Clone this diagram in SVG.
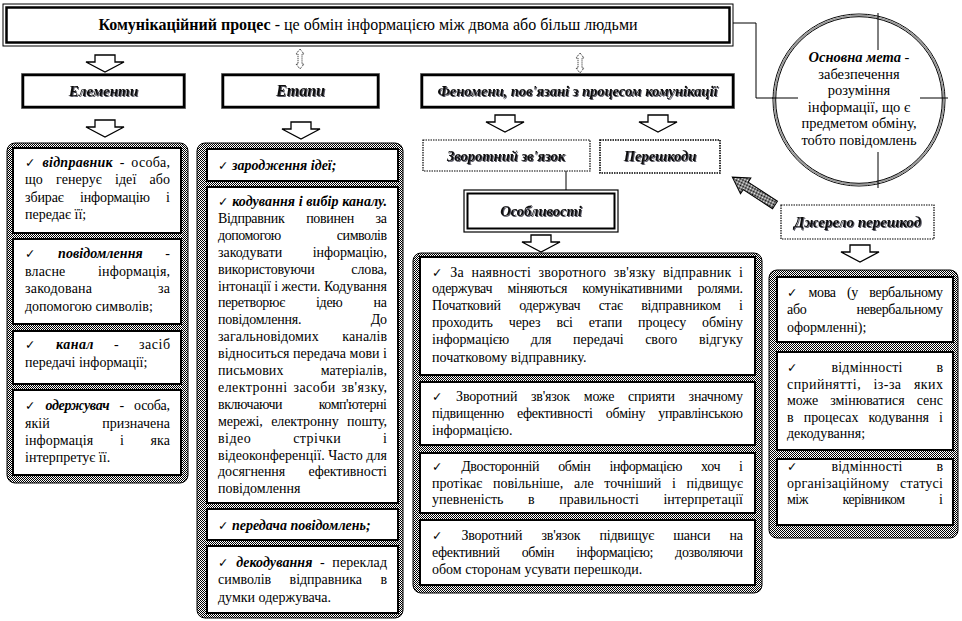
<svg xmlns="http://www.w3.org/2000/svg" width="962" height="621" viewBox="0 0 962 621">
<defs>
<pattern id="stip" width="2" height="2" patternUnits="userSpaceOnUse"><rect width="2" height="2" fill="#fff"/><rect width="1" height="1" fill="#000"/><rect x="1" y="1" width="1" height="1" fill="#000"/></pattern>
<filter id="sh" x="-5%" y="-20%" width="110%" height="140%"><feDropShadow dx="1" dy="1" stdDeviation="0.2" flood-color="#223" flood-opacity="0.75"/></filter>
<path id="barrow" d="M-10,0 H10 V7 H19 L0,17 L-19,7 H-10 Z" fill="#fff" stroke="#000" stroke-width="1.3"/>
<path id="dblarrow" d="M0,0 L4,5 H2 V15 H4 L0,20 L-4,15 H-2 V5 H-4 Z" fill="#fff" stroke="#000" stroke-width="0.9" stroke-dasharray="1,1"/>
</defs>
<style>
.b{font-family:"Liberation Serif","Times New Roman",serif;font-size:14px;fill:#000}
.bi{font-weight:bold;font-style:italic}
.ck{font-family:"DejaVu Sans",sans-serif;font-size:12.5px}
.hd{font-family:"Liberation Serif","Times New Roman",serif;font-size:15px;font-weight:bold;font-style:italic;fill:#111;filter:url(#sh)}
.hd2{font-family:"Liberation Serif","Times New Roman",serif;font-size:14.5px;font-weight:bold;font-style:italic;fill:#111;filter:url(#sh)}
.cont{fill:url(#stip);stroke:#000;stroke-width:1}
.box{fill:#fff;stroke:#000;stroke-width:2}
.hbox{fill:#fff;stroke:#000;stroke-width:2.5}
.hdot{fill:none;stroke:#000;stroke-width:1;stroke-dasharray:1,1}
.dotbox{fill:#fff;stroke:#000;stroke-width:1.2;stroke-dasharray:1.5,1}
.ln{fill:none;stroke:#000;stroke-width:1}
</style>
<rect width="962" height="621" fill="#fff"/>

<!-- connectors -->
<g id="connectors">
<polyline class="ln" points="733,23 756,23 756,98 800,98"/>
<line class="ln" x1="566" y1="171" x2="566" y2="190"/>
<use href="#barrow" x="105" y="55"/>
<use href="#barrow" x="105" y="120"/>
<use href="#barrow" x="301" y="122"/>
<use href="#barrow" x="505" y="115"/>
<use href="#barrow" x="658" y="115"/>
<use href="#barrow" x="541" y="235"/>
<use href="#barrow" x="860" y="245"/>
<use href="#dblarrow" x="300" y="49"/>
<use href="#dblarrow" x="580" y="53"/>
<path d="M0,-4.5 L35,-4.5 L35,-9.5 L51,0 L35,9.5 L35,4.5 L0,4.5 Z" transform="translate(775,205) rotate(213.1)" fill="url(#stip)" stroke="#000" stroke-width="1"/>
</g>

<!-- title -->
<g id="title">
<rect x="3" y="4" width="730" height="42" fill="#fff" stroke="#000" stroke-width="1"/>
<rect x="6.5" y="7.5" width="723" height="35" fill="none" stroke="#000" stroke-width="2.5"/>
<text class="b" x="368" y="30" text-anchor="middle" style="font-size:16px"><tspan font-weight="bold">Комунікаційний процес</tspan> - це обмін інформацією між двома або більш людьми</text>
</g>

<!-- goal circle -->
<g id="goal">
<circle cx="859" cy="100" r="86" fill="#fff" stroke="#000" stroke-width="1"/>
<circle cx="859" cy="100" r="84.7" fill="none" stroke="#999" stroke-width="1.5"/>
<circle cx="859" cy="100" r="83.3" fill="none" stroke="#000" stroke-width="1"/>
<line class="ln" x1="878" y1="13" x2="878" y2="50"/>
<line class="ln" x1="878" y1="152" x2="878" y2="188"/>
<line class="ln" x1="772" y1="98" x2="798" y2="98"/>
<line class="ln" x1="920" y1="98" x2="948" y2="98"/>
<g class="b" style="font-size:14.5px" text-anchor="middle">
<text x="859" y="62"><tspan class="bi">Основна мета</tspan> -</text>
<text x="859" y="79">забезпечення</text>
<text x="859" y="95">розуміння</text>
<text x="859" y="112">інформації, що є</text>
<text x="859" y="128">предметом обміну,</text>
<text x="859" y="145">тобто повідомлень</text>
</g>
</g>

<!-- header boxes -->
<g id="h-elements">
<rect class="hdot" x="21.5" y="73.5" width="164" height="35"/>
<rect class="hbox" x="23" y="75" width="161" height="32"/>
<text class="hd" x="103.5" y="96" text-anchor="middle">Елементи</text>
</g>
<g id="h-stages">
<rect class="hdot" x="221.5" y="73.5" width="158" height="35"/>
<rect class="hbox" x="223" y="75" width="155" height="32"/>
<text class="hd" x="300.5" y="96" text-anchor="middle" style="font-size:16px">Етапи</text>
</g>
<g id="h-phenomena">
<rect class="hdot" x="420.5" y="73.5" width="314" height="35"/>
<rect class="hbox" x="422" y="75" width="311" height="32"/>
<text class="hd2" x="577.5" y="96" text-anchor="middle">Феномени, пов'язані з процесом комунікації</text>
</g>
<g id="feedback">
<rect class="dotbox" x="423" y="140" width="167" height="31"/>
<text class="hd2" x="506" y="161" text-anchor="middle">Зворотний  зв'язок</text>
</g>
<g id="obstacles">
<rect class="dotbox" x="600" y="140" width="120" height="33" style="stroke-width:1.6"/>
<text class="hd2" x="660" y="161" text-anchor="middle">Перешкоди</text>
</g>
<g id="features">
<rect x="464" y="190" width="154" height="42" fill="#fff" stroke="#000" stroke-width="1.2"/>
<rect x="467.5" y="193.5" width="147" height="35" fill="none" stroke="#000" stroke-width="2"/>
<text class="hd2" x="541" y="216" text-anchor="middle">Особливості</text>
</g>
<g id="noise-source">
<rect class="dotbox" x="781" y="205" width="153" height="34"/>
<text class="hd" x="857.5" y="227" text-anchor="middle">Джерело перешкод</text>
</g>

<!-- elements list -->
<g id="elements-list">
<rect class="cont" x="7" y="143" width="181" height="340" rx="8"/>
<g id="el-sender">
<rect class="box" x="13" y="148" width="168" height="85"/>
<text class="b" x="25" y="167" textLength="145" lengthAdjust="spacing" style="word-spacing:3px"><tspan class="ck">✓</tspan> <tspan class="bi">відправник</tspan> - особа,</text>
<text class="b" x="25" y="184" textLength="145" lengthAdjust="spacing" style="word-spacing:9.7px">що генерує ідеї або</text>
<text class="b" x="25" y="202" textLength="145" lengthAdjust="spacing" style="word-spacing:13px">збирає інформацію і</text>
<text class="b" x="25" y="219">передає її;</text>
</g>
<g id="el-message">
<rect class="box" x="13" y="239" width="168" height="85"/>
<text class="b" x="25" y="258" textLength="145" lengthAdjust="spacing" style="word-spacing:19px"><tspan class="ck">✓</tspan> <tspan class="bi">повідомлення</tspan> -</text>
<text class="b" x="25" y="276" textLength="145" lengthAdjust="spacing" style="word-spacing:29px">власне інформація,</text>
<text class="b" x="25" y="293" textLength="145" lengthAdjust="spacing" style="word-spacing:62px">закодована за</text>
<text class="b" x="25" y="311">допомогою символів;</text>
</g>
<g id="el-channel">
<rect class="box" x="13" y="331" width="168" height="53"/>
<text class="b" x="25" y="349" textLength="145" lengthAdjust="spacing" style="word-spacing:16px"><tspan class="ck">✓</tspan> <tspan class="bi">канал</tspan> - засіб</text>
<text class="b" x="25" y="367">передачі інформації;</text>
</g>
<g id="el-receiver">
<rect class="box" x="13" y="390" width="168" height="85"/>
<text class="b" x="25" y="410" textLength="145" lengthAdjust="spacing" style="word-spacing:7px"><tspan class="ck">✓</tspan> <tspan class="bi">одержувач</tspan> - особа,</text>
<text class="b" x="25" y="428" textLength="145" lengthAdjust="spacing" style="word-spacing:49px">якій призначена</text>
<text class="b" x="25" y="445" textLength="145" lengthAdjust="spacing" style="word-spacing:23px">інформація і яка</text>
<text class="b" x="25" y="462">інтерпретує її.</text>
</g>
</g>

<!-- stages list -->
<g id="stages-list">
<rect class="cont" x="197" y="143" width="206" height="475" rx="8"/>
<g id="st-idea">
<rect class="box" x="207" y="149" width="191" height="32"/>
<text class="b bi" x="218" y="170"><tspan class="ck">✓</tspan> зародження ідеї;</text>
</g>
<g id="st-encoding">
<rect class="box" x="207" y="187" width="191" height="316"/>
<text class="b" x="218" y="206" textLength="169" lengthAdjust="spacing"><tspan class="ck">✓</tspan> <tspan class="bi">кодування і вибір каналу.</tspan></text>
<text class="b" x="218" y="222.9" textLength="169" lengthAdjust="spacing" style="word-spacing:18.5px">Відправник повинен за</text>
<text class="b" x="218" y="239.8" textLength="169" lengthAdjust="spacing" style="word-spacing:53px">допомогою символів</text>
<text class="b" x="218" y="256.7" textLength="169" lengthAdjust="spacing" style="word-spacing:27px">закодувати інформацію,</text>
<text class="b" x="218" y="273.6" textLength="169" lengthAdjust="spacing" style="word-spacing:33.5px">використовуючи слова,</text>
<text class="b" x="218" y="290.5" textLength="169" lengthAdjust="spacing">інтонації і жести. Кодування</text>
<text class="b" x="218" y="307.4" textLength="169" lengthAdjust="spacing" style="word-spacing:28px">перетворює ідею на</text>
<text class="b" x="218" y="324.3" textLength="169" lengthAdjust="spacing" style="word-spacing:66px">повідомлення. До</text>
<text class="b" x="218" y="341.2" textLength="169" lengthAdjust="spacing" style="word-spacing:20px">загальновідомих каналів</text>
<text class="b" x="218" y="358.1" textLength="169" lengthAdjust="spacing">відноситься передача мови і</text>
<text class="b" x="218" y="375" textLength="169" lengthAdjust="spacing" style="word-spacing:33.5px">письмових матеріалів,</text>
<text class="b" x="218" y="391.9" textLength="169" lengthAdjust="spacing" style="word-spacing:2px">електронні засоби зв'язку,</text>
<text class="b" x="218" y="408.8" textLength="169" lengthAdjust="spacing" style="word-spacing:33.5px">включаючи комп'ютерні</text>
<text class="b" x="218" y="425.7" textLength="169" lengthAdjust="spacing" style="word-spacing:5px">мережі, електронну пошту,</text>
<text class="b" x="218" y="442.6" textLength="169" lengthAdjust="spacing" style="word-spacing:38px">відео стрічки і</text>
<text class="b" x="218" y="459.5" textLength="169" lengthAdjust="spacing">відеоконференції. Часто для</text>
<text class="b" x="218" y="476.4" textLength="169" lengthAdjust="spacing" style="word-spacing:20px">досягнення ефективності</text>
<text class="b" x="218" y="493.3">повідомлення</text>
</g>
<g id="st-transfer">
<rect class="box" x="207" y="509" width="191" height="31"/>
<text class="b bi" x="218" y="530"><tspan class="ck">✓</tspan> передача повідомлень;</text>
</g>
<g id="st-decoding">
<rect class="box" x="207" y="546" width="191" height="67"/>
<text class="b" x="218" y="567" textLength="169" lengthAdjust="spacing" style="word-spacing:4px"><tspan class="ck">✓</tspan> <tspan class="bi">декодування</tspan> - переклад</text>
<text class="b" x="218" y="584" textLength="169" lengthAdjust="spacing" style="word-spacing:15px">символів відправника в</text>
<text class="b" x="218" y="602">думки одержувача.</text>
</g>
</g>

<!-- features list -->
<g id="features-list">
<rect class="cont" x="413" y="253" width="349" height="340" rx="8"/>
<g id="ft-1">
<rect class="box" x="420" y="257" width="335" height="118"/>
<text class="b" x="432" y="277" textLength="311" lengthAdjust="spacing" style="word-spacing:4px"><tspan class="ck">✓</tspan> За наявності зворотного зв'язку відправник і</text>
<text class="b" x="432" y="293" textLength="311" lengthAdjust="spacing" style="word-spacing:12px">одержувач міняються комунікативними ролями.</text>
<text class="b" x="432" y="310" textLength="311" lengthAdjust="spacing" style="word-spacing:15px">Початковий одержувач стає відправником і</text>
<text class="b" x="432" y="327" textLength="311" lengthAdjust="spacing" style="word-spacing:12.5px">проходить через всі етапи процесу обміну</text>
<text class="b" x="432" y="344" textLength="311" lengthAdjust="spacing" style="word-spacing:18px">інформацією для передачі свого відгуку</text>
<text class="b" x="432" y="362">початковому відправнику.</text>
</g>
<g id="ft-2">
<rect class="box" x="420" y="382" width="335" height="63"/>
<text class="b" x="432" y="401" textLength="311" lengthAdjust="spacing" style="word-spacing:10.5px"><tspan class="ck">✓</tspan> Зворотний зв'язок може сприяти значному</text>
<text class="b" x="432" y="418" textLength="311" lengthAdjust="spacing" style="word-spacing:10px">підвищенню ефективності обміну управлінською</text>
<text class="b" x="432" y="435">інформацією.</text>
</g>
<g id="ft-3">
<rect class="box" x="420" y="453" width="335" height="60"/>
<text class="b" x="432" y="471" textLength="311" lengthAdjust="spacing" style="word-spacing:16px"><tspan class="ck">✓</tspan> Двосторонній обмін інформацією хоч і</text>
<text class="b" x="432" y="488" textLength="311" lengthAdjust="spacing" style="word-spacing:7.2px">протікає повільніше, але точніший і підвищує</text>
<text class="b" x="432" y="504" textLength="311" lengthAdjust="spacing" style="word-spacing:21px">упевненість в правильності інтерпретації</text>
</g>
<g id="ft-4">
<rect class="box" x="420" y="520" width="335" height="65"/>
<text class="b" x="432" y="540" textLength="311" lengthAdjust="spacing" style="word-spacing:16px"><tspan class="ck">✓</tspan> Зворотний зв'язок підвищує шанси на</text>
<text class="b" x="432" y="557" textLength="311" lengthAdjust="spacing" style="word-spacing:18.8px">ефективний обмін інформацією; дозволяючи</text>
<text class="b" x="432" y="574">обом сторонам усувати перешкоди.</text>
</g>
</g>

<!-- noise list -->
<g id="noise-list">
<rect class="cont" x="769" y="270" width="189" height="268" rx="8"/>
<g id="ns-1">
<rect class="box" x="777" y="277" width="176" height="65"/>
<text class="b" x="787" y="297" textLength="156" lengthAdjust="spacing" style="word-spacing:8px"><tspan class="ck">✓</tspan> мова (у вербальному</text>
<text class="b" x="787" y="314" textLength="156" lengthAdjust="spacing" style="word-spacing:47px">або невербальному</text>
<text class="b" x="787" y="332">оформленні);</text>
</g>
<g id="ns-2">
<rect class="box" x="777" y="352" width="176" height="98"/>
<text class="b" x="787" y="372" textLength="156" lengthAdjust="spacing" style="word-spacing:30px"><tspan class="ck">✓</tspan> відмінності в</text>
<text class="b" x="787" y="389" textLength="156" lengthAdjust="spacing" style="word-spacing:8.5px">сприйнятті, із-за яких</text>
<text class="b" x="787" y="405" textLength="156" lengthAdjust="spacing" style="word-spacing:8.5px">може змінюватися сенс</text>
<text class="b" x="787" y="422" textLength="156" lengthAdjust="spacing" style="word-spacing:6.7px">в процесах кодування і</text>
<text class="b" x="787" y="438">декодування;</text>
</g>
<g id="ns-3">
<rect class="box" x="777" y="459" width="176" height="66"/>
<text class="b" x="787" y="471" textLength="156" lengthAdjust="spacing" style="word-spacing:30px"><tspan class="ck">✓</tspan> відмінності в</text>
<text class="b" x="787" y="488" textLength="156" lengthAdjust="spacing" style="word-spacing:7px">організаційному статусі</text>
<text class="b" x="787" y="504" textLength="156" lengthAdjust="spacing" style="word-spacing:31.6px">між керівником і</text>
</g>
</g>
</svg>
